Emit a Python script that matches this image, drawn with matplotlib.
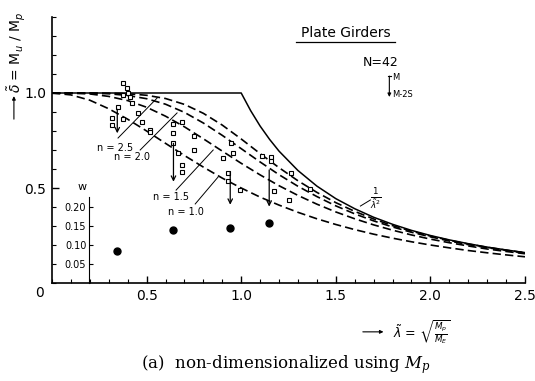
import numpy as np
import matplotlib
matplotlib.use("Agg")
import matplotlib.pyplot as plt

# courbes theoriques
lam_curve = [0.0, 0.1, 0.2, 0.3, 0.4, 0.5, 0.6, 0.7, 0.8, 0.9, 1.0, 1.1, 1.2,
             1.3, 1.4, 1.5, 1.6, 1.7, 1.8, 1.9, 2.0, 2.1, 2.2, 2.3, 2.4, 2.5]
delta_n10 = [1.0, 0.990, 0.962, 0.917, 0.862, 0.800, 0.735, 0.671, 0.610, 0.552,
             0.500, 0.452, 0.410, 0.372, 0.338, 0.308, 0.281, 0.257, 0.236, 0.217,
             0.200, 0.185, 0.171, 0.159, 0.148, 0.138]
delta_n15 = [1.0, 0.999, 0.995, 0.982, 0.960, 0.925, 0.878, 0.822, 0.759, 0.694,
             0.630, 0.569, 0.512, 0.461, 0.415, 0.374, 0.338, 0.306, 0.278, 0.253,
             0.231, 0.212, 0.195, 0.179, 0.166, 0.154]
delta_n20 = [1.0, 1.0, 0.999, 0.996, 0.987, 0.970, 0.941, 0.898, 0.842, 0.777,
             0.707, 0.637, 0.570, 0.509, 0.455, 0.406, 0.364, 0.327, 0.295, 0.267,
             0.243, 0.221, 0.202, 0.186, 0.171, 0.158]
delta_n25 = [1.0, 1.0, 1.0, 0.999, 0.996, 0.988, 0.971, 0.940, 0.893, 0.831,
             0.758, 0.681, 0.607, 0.538, 0.477, 0.423, 0.377, 0.337, 0.302, 0.273,
             0.247, 0.225, 0.205, 0.188, 0.173, 0.159]

lam_solid = [0.0, 1.0, 1.05, 1.1, 1.15, 1.2, 1.3, 1.4, 1.5, 1.6, 1.7, 1.8, 1.9,
             2.0, 2.1, 2.2, 2.3, 2.4, 2.5]
delta_solid = [1.0, 1.0, 0.907, 0.826, 0.756, 0.694, 0.592, 0.510, 0.444, 0.391,
               0.346, 0.309, 0.277, 0.250, 0.227, 0.207, 0.189, 0.174, 0.160]

# points d'essais
lam_pts = [0.377, 0.395, 0.404, 0.377, 0.413, 0.422, 0.351, 0.453, 0.316, 0.377,
           0.316, 0.475, 0.519, 0.519, 0.639, 0.686, 0.642, 0.748, 0.639, 0.668,
           0.748, 0.686, 0.686, 0.947, 0.959, 0.906, 1.110, 1.159, 1.159, 0.930,
           0.930, 0.995, 1.171, 1.254, 1.265, 1.365]
delta_pts = [1.051, 1.025, 1.002, 0.989, 0.981, 0.946, 0.928, 0.896, 0.867, 0.862,
             0.832, 0.849, 0.805, 0.793, 0.837, 0.849, 0.788, 0.774, 0.735, 0.686,
             0.700, 0.621, 0.586, 0.738, 0.686, 0.656, 0.668, 0.662, 0.644, 0.581,
             0.538, 0.489, 0.486, 0.437, 0.581, 0.493]

# moyenne M et M-2S
lam_groupe = [0.345, 0.642, 0.942, 1.148]
delta_M = [0.914, 0.735, 0.586, 0.595]
delta_M2S = [0.788, 0.533, 0.412, 0.402]
w_groupe = [0.084, 0.140, 0.145, 0.158]

labels_n = ["n = 2.5", "n = 2.0", "n = 1.5", "n = 1.0"]
pos_labels_n = [(0.333, 0.711), (0.423, 0.663), (0.630, 0.453), (0.709, 0.374)]
traits_n = [((0.349, 0.763), (0.556, 0.974)), ((0.466, 0.700), (0.661, 0.895)),
            ((0.656, 0.489), (0.852, 0.700)), ((0.757, 0.416), (0.878, 0.558))]

fig = plt.figure(figsize=(5.35, 3.81), dpi=100)
ax = fig.add_axes([0.0972, 0.2572, 0.8841, 0.6982])
ax.set_xlim(0, 2.5)
ax.set_ylim(0, 1.4)
for s in ["top", "right"]:
    ax.spines[s].set_visible(False)
ax.spines["left"].set_linewidth(1.2)
ax.spines["bottom"].set_linewidth(1.2)

ax.plot(lam_solid, delta_solid, color="black", lw=1.1)
for d in [delta_n10, delta_n15, delta_n20, delta_n25]:
    ax.plot(lam_curve, d, color="black", lw=1.2, dashes=(5, 2.5))

ax.plot(lam_pts, delta_pts, "s", ms=3.2, mfc="white", mec="black", mew=0.8)

for x, top, bot in zip(lam_groupe, delta_M, delta_M2S):
    ax.annotate("", xy=(x, bot), xytext=(x, top),
                arrowprops=dict(arrowstyle="->", color="black", lw=0.9,
                                shrinkA=0, shrinkB=0, mutation_scale=8))

for txt, pos, (p0, p1) in zip(labels_n, pos_labels_n, traits_n):
    ax.text(pos[0], pos[1], txt, fontsize=7, ha="center", va="center")
    ax.plot([p0[0], p1[0]], [p0[1], p1[1]], color="black", lw=0.7)

# 1/lambda^2
ax.text(1.712, 0.442, r"$\frac{1}{\tilde{\lambda}^2}$", fontsize=9, ha="center", va="center")
ax.plot([1.63, 1.683], [0.405, 0.437], color="black", lw=0.7)

# graduations
ax.set_xticks([0.5, 1.0, 1.5, 2.0, 2.5])
ax.set_xticklabels(["0.5", "1.0", "1.5", "2.0", "2.5"])
ax.set_xticks(np.arange(0, 2.51, 0.1), minor=True)
ax.set_yticks([0.5, 1.0])
ax.set_yticklabels(["0.5", "1.0"])
ax.set_yticks(np.arange(0, 1.41, 0.1), minor=True)
ax.tick_params(which="major", direction="in", length=5, width=1, labelsize=10, pad=4)
ax.tick_params(which="minor", direction="in", length=3, width=0.8)
ax.text(-0.065, -0.055, "0", fontsize=10, ha="center", va="center")

# axe w
axw = ax.twinx()
axw.set_ylim(0, 0.7)
for s in ["top", "right", "bottom"]:
    axw.spines[s].set_visible(False)
axw.spines["left"].set_position(("data", 0.196))
axw.spines["left"].set_bounds(0, 0.226)
axw.yaxis.tick_left()
axw.set_yticks([0.05, 0.10, 0.15, 0.20])
axw.set_yticklabels(["0.05", "0.10", "0.15", "0.20"])
axw.tick_params(direction="in", length=3, labelsize=7, pad=2)
axw.plot(lam_groupe, w_groupe, "o", color="black", ms=5)
ax.text(0.159, 0.505, "w", fontsize=8, ha="center", va="center")

# titre et legende
ax.text(1.553, 1.316, "Plate Girders", fontsize=10, ha="center", va="center")
ax.plot([1.291, 1.815], [1.268, 1.268], color="black", lw=0.9, clip_on=False)
ax.text(1.735, 1.163, "N=42", fontsize=9, ha="center", va="center")
ax.annotate("", xy=(1.783, 0.979), xytext=(1.783, 1.089),
            arrowprops=dict(arrowstyle="-|>", color="black", lw=0.8,
                            shrinkA=0, shrinkB=0, mutation_scale=5))
ax.plot([1.775, 1.791], [1.089, 1.089], color="black", lw=0.8)
ax.text(1.80, 1.079, "M", fontsize=6, ha="left", va="center")
ax.text(1.80, 0.990, "M-2S", fontsize=6, ha="left", va="center")

# libelles des axes
fig.text(0.030, 0.862, r"$\tilde{\delta}$ = M$_u$ / M$_p$", rotation=90,
         ha="center", va="center", fontsize=10)
fig.add_artist(matplotlib.patches.FancyArrowPatch(
    (0.026, 0.680), (0.026, 0.755), transform=fig.transFigure,
    arrowstyle="-|>", mutation_scale=5, color="black", lw=0.8))
fig.add_artist(matplotlib.patches.FancyArrowPatch(
    (0.673, 0.129), (0.722, 0.129), transform=fig.transFigure,
    arrowstyle="-|>", mutation_scale=5, color="black", lw=0.8))
fig.text(0.735, 0.129, r"$\tilde{\lambda}$ = $\sqrt{\frac{M_p}{M_E}}$",
         ha="left", va="center", fontsize=9)

fig.text(0.535, 0.042, "(a)  non-dimensionalized using $M_p$", ha="center",
         va="center", family="DejaVu Serif", fontsize=12,
         math_fontfamily="dejavuserif")

plt.savefig("out.png", dpi=100)
